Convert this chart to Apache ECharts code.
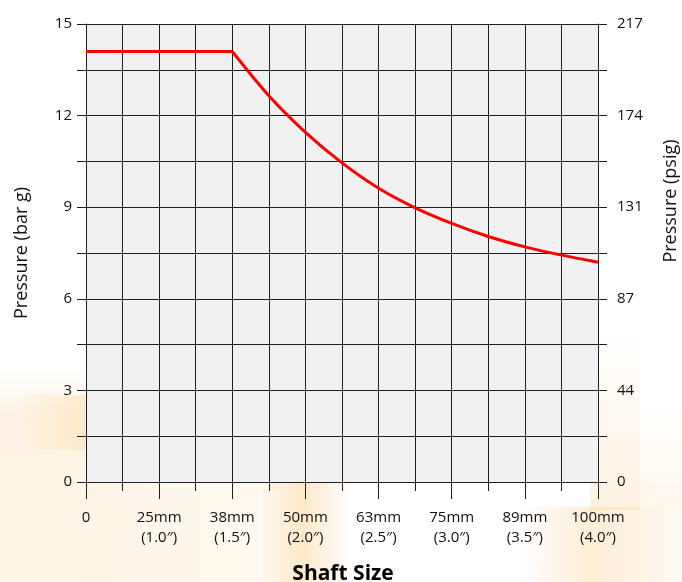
<!DOCTYPE html>
<html>
<head>
<meta charset="utf-8">
<script src="https://cdn.jsdelivr.net/npm/echarts@6/dist/echarts.min.js"></script>
<style>html,body{margin:0;padding:0;background:#fff}#c{width:682px;height:582px}</style>
</head>
<body>
<div id="c"></div>
<script>
// ---- data ----
const xTickLabels = ['0', '25mm\n(1.0\u2033)', '38mm\n(1.5\u2033)', '50mm\n(2.0\u2033)', '63mm\n(2.5\u2033)', '75mm\n(3.0\u2033)', '89mm\n(3.5\u2033)', '100mm\n(4.0\u2033)'];
const barTickLabels = ['0', '3', '6', '9', '12', '15'];
const psigTickLabels = ['0', '44', '87', '131', '174', '217'];
const flatX = [0, 4];
const flatY = [14.1, 14.1];
const curveX = [4, 5, 6, 7, 8, 9, 10, 11, 12, 13, 14];
const curveY = [14.1, 12.65, 11.45, 10.45, 9.62, 8.98, 8.47, 8.04, 7.7, 7.43, 7.2];

const FONT = '"Open Sans", "Noto Sans", sans-serif';
const chart = echarts.init(document.getElementById('c'), null, {renderer: 'canvas'});
const gridColor = '#1e1e1e';

function rectDeco(x, y, w, h, stops, dir) {
  return {
    type: 'rect', z: -100, silent: true,
    shape: {x: x, y: y, width: w, height: h},
    style: {fill: new echarts.graphic.LinearGradient(dir[0], dir[1], dir[2], dir[3], stops)}
  };
}
const O = (a) => 'rgba(250,205,135,' + a + ')';

chart.setOption({
  animation: false,
  backgroundColor: '#ffffff',
  grid: {left: 86, right: 84, top: 24, bottom: 100, show: true, backgroundColor: '#f1f1f1', borderWidth: 0},
  xAxis: {
    type: 'value', min: 0, max: 14, interval: 2,
    axisLine: {show: true, lineStyle: {color: gridColor, width: 1}},
    axisTick: {show: true, length: 17, lineStyle: {color: gridColor}},
    minorTick: {show: true, splitNumber: 2, length: 9, lineStyle: {color: gridColor}},
    splitLine: {show: true, lineStyle: {color: gridColor, width: 1}},
    minorSplitLine: {show: true, lineStyle: {color: gridColor, width: 1}},
    axisLabel: {
      margin: 26, fontSize: 15, lineHeight: 20, color: '#111', fontFamily: FONT,
      formatter: v => xTickLabels[Math.round(v / 2)]
    }
  },
  yAxis: [{
    type: 'value', min: 0, max: 15, interval: 3, position: 'left',
    axisLine: {show: true, lineStyle: {color: gridColor}},
    axisTick: {show: true, length: 9, lineStyle: {color: gridColor}},
    minorTick: {show: true, splitNumber: 2, length: 9, lineStyle: {color: gridColor}},
    splitLine: {show: true, lineStyle: {color: gridColor}},
    minorSplitLine: {show: true, lineStyle: {color: gridColor}},
    axisLabel: {margin: 14, fontSize: 15, color: '#111', fontFamily: FONT,
      formatter: v => barTickLabels[Math.round(v / 3)]}
  }, {
    type: 'value', min: 0, max: 15, interval: 3, position: 'right',
    axisLine: {show: true, lineStyle: {color: gridColor}},
    axisTick: {show: true, length: 9, lineStyle: {color: gridColor}},
    minorTick: {show: true, splitNumber: 2, length: 9, lineStyle: {color: gridColor}},
    splitLine: {show: false},
    axisLabel: {margin: 19, fontSize: 15, color: '#111', fontFamily: FONT, align: 'left',
      formatter: v => psigTickLabels[Math.round(v / 3)]}
  }],
  series: [{
    type: 'line', name: 'flat', showSymbol: false, symbol: 'none',
    data: flatX.map((x, i) => [x, flatY[i]]),
    lineStyle: {color: '#ff0000', width: 3}, z: 5
  }, {
    type: 'line', name: 'curve', showSymbol: false, symbol: 'none', smooth: 0.3,
    data: curveX.map((x, i) => [x, curveY[i]]),
    lineStyle: {color: '#ff0000', width: 3}, z: 5
  }],
  graphic: [
    // decorative background blobs
    rectDeco(0, 370, 86, 212, [{offset: 0, color: O(0)}, {offset: 0.2, color: O(0.22)}, {offset: 1, color: O(0.18)}], [0, 0, 0, 1]),
    rectDeco(15, 395, 71, 55, [{offset: 0, color: O(0)}, {offset: 1, color: O(0.3)}], [0, 0, 1, 0]),
    rectDeco(86, 482, 176, 100, [{offset: 0, color: O(0.2)}, {offset: 1, color: O(0.12)}], [0, 0, 1, 0]),
    rectDeco(262, 482, 90, 100, [{offset: 0, color: O(0.15)}, {offset: 0.45, color: O(0.45)}, {offset: 1, color: O(0)}], [0, 0, 1, 0]),
    rectDeco(590, 330, 50, 180, [{offset: 0, color: O(0)}, {offset: 1, color: O(0.25)}], [0, 0, 0, 1]),
    rectDeco(520, 507, 162, 75, [{offset: 0, color: O(0)}, {offset: 0.45, color: O(0.35)}, {offset: 1, color: O(0.1)}], [0, 0, 1, 0]),
    rectDeco(640, 400, 42, 107, [{offset: 0, color: O(0)}, {offset: 1, color: O(0.15)}], [0, 0, 0, 1]),
    // titles
    {type: 'text', x: 22, y: 253, rotation: Math.PI / 2, z: 10,
      style: {text: 'Pressure (bar g)', fill: '#111', font: '18px ' + FONT, textAlign: 'center', textVerticalAlign: 'middle', align: 'center', verticalAlign: 'middle'}},
    {type: 'text', x: 671, y: 201, rotation: Math.PI / 2, z: 10,
      style: {text: 'Pressure (psig)', fill: '#111', font: '18px ' + FONT, textAlign: 'center', textVerticalAlign: 'middle', align: 'center', verticalAlign: 'middle'}},
    {type: 'text', x: 343, y: 574, z: 10,
      style: {text: 'Shaft Size', fill: '#000', font: 'bold 21px ' + FONT, textAlign: 'center', textVerticalAlign: 'middle', align: 'center', verticalAlign: 'middle'}}
  ]
});
</script>
</body>
</html>
